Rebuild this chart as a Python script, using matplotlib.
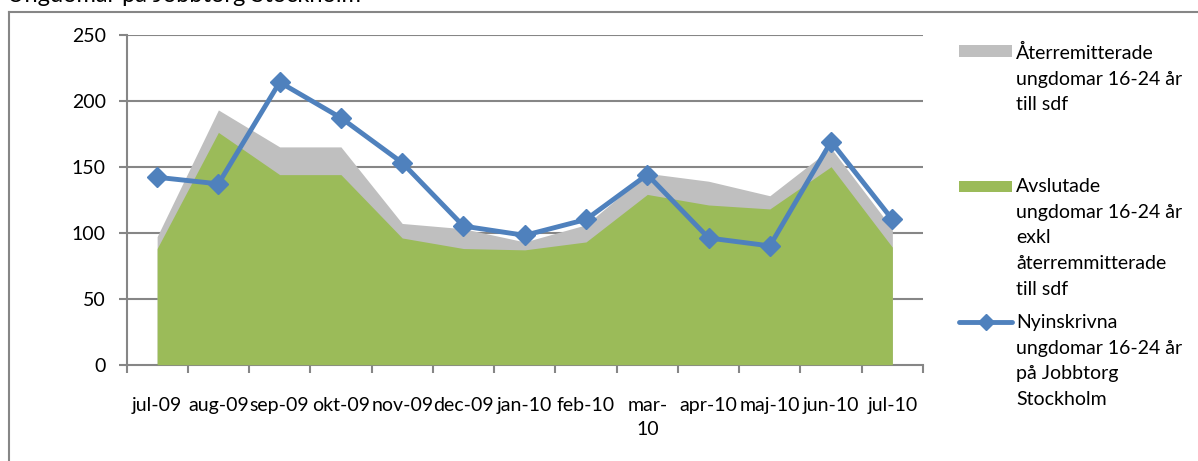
import matplotlib
matplotlib.use("Agg")
import matplotlib.pyplot as plt
from matplotlib.patches import Rectangle
from matplotlib.lines import Line2D
import numpy as np

plt.rcParams['font.family'] = ['Lato', 'DejaVu Sans']

categories = ["jul-09", "aug-09", "sep-09", "okt-09", "nov-09", "dec-09", "jan-10",
              "feb-10", "mar-\n10", "apr-10", "maj-10", "jun-10", "jul-10"]
avslutade = [88, 176, 144, 144, 96, 88, 87, 93, 129, 121, 118, 150, 89]
aterremitterade = [9, 17, 21, 21, 11, 15, 6, 13, 16, 18, 10, 14, 14]
nyinskrivna = [142, 137, 214, 187, 153, 105, 98, 110, 144, 96, 90, 169, 110]
yticks = [0, 50, 100, 150, 200, 250]

legend_labels = [
    "Återremitterade\nungdomar 16-24 år\ntill sdf",
    "Avslutade\nungdomar 16-24 år\nexkl\nåterremmitterade\ntill sdf",
    "Nyinskrivna\nungdomar 16-24 år\npå Jobbtorg\nStockholm",
]

GREEN = "#9BBB59"
GRAY = "#BFBFBF"
BLUE = "#4F81BD"
AXC = "#868686"
FS = 14

W, H = 1198, 461
fig = plt.figure(figsize=(W / 100, H / 100), dpi=100)

def fx(px):
    return px / W

def fy(py):
    return 1 - py / H

left, right, top, bottom = 126.5, 923, 34.7, 364.7
ax = fig.add_axes([fx(left), fy(bottom), fx(right - left), (bottom - top) / H])

x = np.arange(len(categories))
green = np.array(avslutade)
total = green + np.array(aterremitterade)

ax.fill_between(x, 0, total, color=GRAY, lw=0, zorder=2)
ax.fill_between(x, 0, green, color=GREEN, lw=0, zorder=3)
ax.plot(x, nyinskrivna, color=BLUE, lw=3.5, marker="D", markersize=10,
        markeredgecolor=BLUE, markerfacecolor=BLUE, zorder=5, clip_on=False)

ax.set_xlim(-0.5, len(categories) - 0.5)
ax.set_ylim(0, 250)
ax.set_yticks(yticks)
ax.set_yticklabels([str(v) for v in yticks])
for v in yticks[1:]:
    ax.axhline(v, color=AXC, lw=1.5, zorder=1)

ax.set_xticks(x)
ax.set_xticklabels(categories, fontsize=FS, linespacing=1.55)
ax.set_xticks(np.arange(-0.5, len(categories), 1.0), minor=True)
ax.tick_params(axis="x", which="major", length=0, pad=23)
ax.tick_params(axis="x", which="minor", length=6, width=1.5, color=AXC, direction="out")
ax.tick_params(axis="y", length=6, width=1.5, color=AXC, direction="out", labelsize=FS, pad=9)
for lab in ax.get_xticklabels():
    lab.set_verticalalignment("top")

for s in ["top", "right"]:
    ax.spines[s].set_visible(False)
for s in ["left", "bottom"]:
    ax.spines[s].set_color(AXC)
    ax.spines[s].set_linewidth(1.5)

# outer chart frame
fig.add_artist(Line2D([fx(9), fx(9)], [fy(12), 0], color=AXC, lw=1.5))
fig.add_artist(Line2D([fx(9), 1], [fy(12), fy(12)], color=AXC, lw=1.5))

# partially visible title (cut off at the top edge, as in the reference)
fig.text(fx(7), fy(2), "Ungdomar på Jobbtorg Stockholm", fontsize=17,
         va="baseline", ha="left", color="black")

# legend
fig.add_artist(Rectangle((fx(959), fy(57)), fx(53), 12 / H, color=GRAY, lw=0))
fig.add_artist(Rectangle((fx(959), fy(192)), fx(53), 11 / H, color=GREEN, lw=0))
fig.add_artist(Line2D([fx(959), fx(1012)], [fy(322), fy(322)], color=BLUE, lw=3.5,
                      solid_capstyle="round"))
fig.add_artist(Line2D([fx(985.5)], [fy(322)], color=BLUE, marker="D", markersize=8))

text_tops = [44, 178, 314]
for lbl, ty in zip(legend_labels, text_tops):
    fig.text(fx(1016), fy(ty), lbl, fontsize=FS, va="top", ha="left", linespacing=1.62)

fig.savefig("out.png", dpi=100)
